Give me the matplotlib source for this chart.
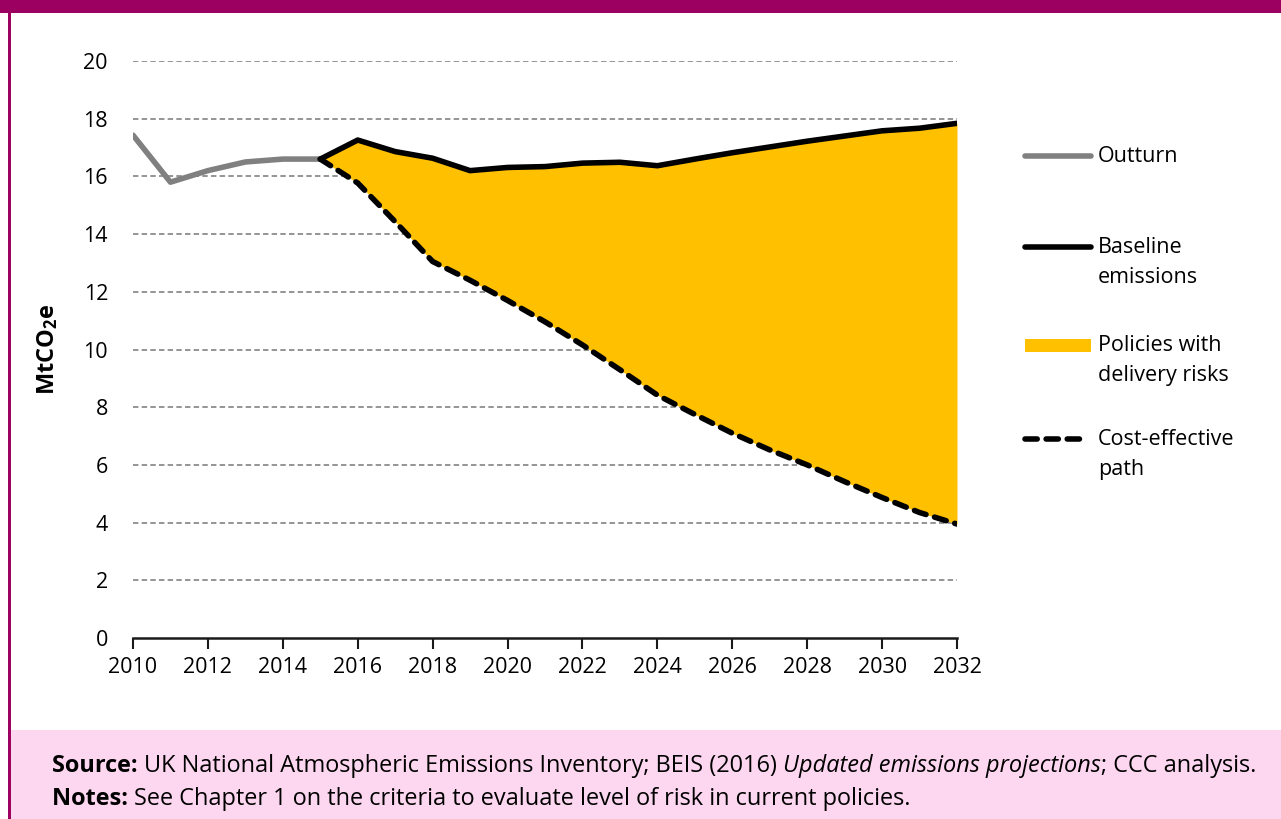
import matplotlib
matplotlib.use("Agg")
import matplotlib.pyplot as plt
from matplotlib.patches import Rectangle
from matplotlib.lines import Line2D

plt.rcParams['font.family'] = ['Open Sans', 'DejaVu Sans']
plt.rcParams['mathtext.fontset'] = 'custom'
plt.rcParams['mathtext.rm'] = 'Open Sans'
plt.rcParams['mathtext.bf'] = 'Open Sans:bold'
plt.rcParams['mathtext.it'] = 'Open Sans:italic'

# Historical outturn
outturn_years = [2010, 2011, 2012, 2013, 2014, 2015]
outturn = [17.43, 15.8, 16.2, 16.5, 16.6, 16.6]

# Projections
proj_years = list(range(2015, 2033))
baseline = [16.6, 17.26, 16.86, 16.63, 16.2, 16.31, 16.34, 16.46, 16.49, 16.37,
            16.6, 16.82, 17.02, 17.22, 17.4, 17.58, 17.67, 17.84]
cost_effective = [16.6, 15.77, 14.43, 13.05, 12.4, 11.7, 10.96, 10.16, 9.3, 8.42,
                  7.75, 7.1, 6.52, 6.0, 5.42, 4.87, 4.35, 3.95]

x_ticks = list(range(2010, 2033, 2))
y_ticks = list(range(0, 21, 2))

legend_labels = ['Outturn', 'Baseline\nemissions', 'Policies with\ndelivery risks',
                 'Cost-effective\npath']

GREY = '#808080'
GOLD = '#FFC000'
DASH = (0, (2.2, 1.6))

W, H = 1281, 819
fig = plt.figure(figsize=(W / 100, H / 100), dpi=100)

# Page furniture: banner, left rule, footer panel
fig.patches.append(Rectangle((0, 1 - 13 / H), 1, 13 / H, transform=fig.transFigure,
                             facecolor='#9C0060', edgecolor='none', zorder=0))
fig.patches.append(Rectangle((8 / W, 0), 3 / W, 1, transform=fig.transFigure,
                             facecolor='#9C0060', edgecolor='none', zorder=0))
fig.patches.append(Rectangle((11 / W, 0), 1 - 11 / W, (H - 730) / H, transform=fig.transFigure,
                             facecolor='#FDD7F0', edgecolor='none', zorder=0))

ax = fig.add_axes([133 / W, 1 - 638 / H, (957 - 133) / W, (638 - 61) / H])
ax.set_xlim(2010, 2032)
ax.set_ylim(0, 20)

ax.fill_between(proj_years, cost_effective, baseline, color=GOLD, linewidth=0, zorder=2)
ax.plot(outturn_years, outturn, color=GREY, lw=4, solid_capstyle='round',
        solid_joinstyle='round', zorder=3)
ax.plot(proj_years, baseline, color='black', lw=4, solid_capstyle='round',
        solid_joinstyle='round', zorder=4)
ax.plot(proj_years, cost_effective, color='black', lw=4, linestyle=DASH,
        dash_capstyle='round', zorder=4)

for y in y_ticks[1:]:
    ax.axhline(y, color='#8C8C8C', lw=1.3, linestyle=(0, (3, 1.8)), zorder=1)

for s in ['top', 'right', 'left']:
    ax.spines[s].set_visible(False)
ax.spines['bottom'].set_linewidth(1.8)
ax.spines['bottom'].set_color('#1a1a1a')
ax.spines['bottom'].set_zorder(5)

ax.set_xticks(x_ticks)
ax.set_yticks(y_ticks)
ax.tick_params(axis='x', direction='out', length=8, width=1.5, colors='#1a1a1a',
               labelsize=15.5, pad=6)
ax.tick_params(axis='y', length=0, labelsize=15.5, pad=18)
for lab in ax.get_xticklabels() + ax.get_yticklabels():
    lab.set_color('black')

ax.set_ylabel(r'$\mathbf{MtCO_2e}$', fontsize=17)
ax.yaxis.set_label_coords(-(133 - 60) / (957 - 133), 0.5)

# Legend drawn in figure pixel positions
def fx(px):
    return px / W

def fy(py):
    return 1 - py / H

leg_rows = [156, 247, 345, 439]
hx0, hx1, tx = 1025, 1091, 1098
fig.add_artist(Line2D([fx(hx0), fx(hx1)], [fy(leg_rows[0])] * 2, color=GREY, lw=4,
                      solid_capstyle='round'))
fig.add_artist(Line2D([fx(hx0), fx(hx1)], [fy(leg_rows[1])] * 2, color='black', lw=4,
                      solid_capstyle='round'))
fig.add_artist(Rectangle((fx(hx0), fy(352)), fx(hx1) - fx(hx0), 13 / H,
                         transform=fig.transFigure, facecolor=GOLD, edgecolor='none'))
fig.add_artist(Line2D([fx(hx0), fx(hx1 - 4)], [fy(leg_rows[3])] * 2, color='black', lw=4,
                      linestyle=DASH, dash_capstyle='round'))
for row, lab in zip(leg_rows, legend_labels):
    fig.text(fx(tx), fy(row - 10), lab, fontsize=15.5, va='top', ha='left',
             linespacing=1.55)

# Footer notes, pieces set one after another on a shared baseline
renderer = fig.canvas.get_renderer()
FOOT = 16.9

def run(pieces, x_px, base_px):
    x = x_px
    for txt, style in pieces:
        kw = {}
        if style == 'b':
            kw['fontweight'] = 'bold'
        elif style == 'i':
            kw['fontstyle'] = 'italic'
        t = fig.text(fx(x), fy(base_px), txt, fontsize=FOOT, va='baseline',
                     ha='left', **kw)
        x = t.get_window_extent(renderer).x1

run([('Source: ', 'b'),
     ('UK National Atmospheric Emissions Inventory; BEIS (2016) ', 'r'),
     ('Updated emissions projections', 'i'),
     ('; CCC analysis.', 'r')], 52, 772)
run([('Notes: ', 'b'),
     ('See Chapter 1 on the criteria to evaluate level of risk in current policies.', 'r')],
    52, 805)

fig.savefig('out.png', dpi=100)
